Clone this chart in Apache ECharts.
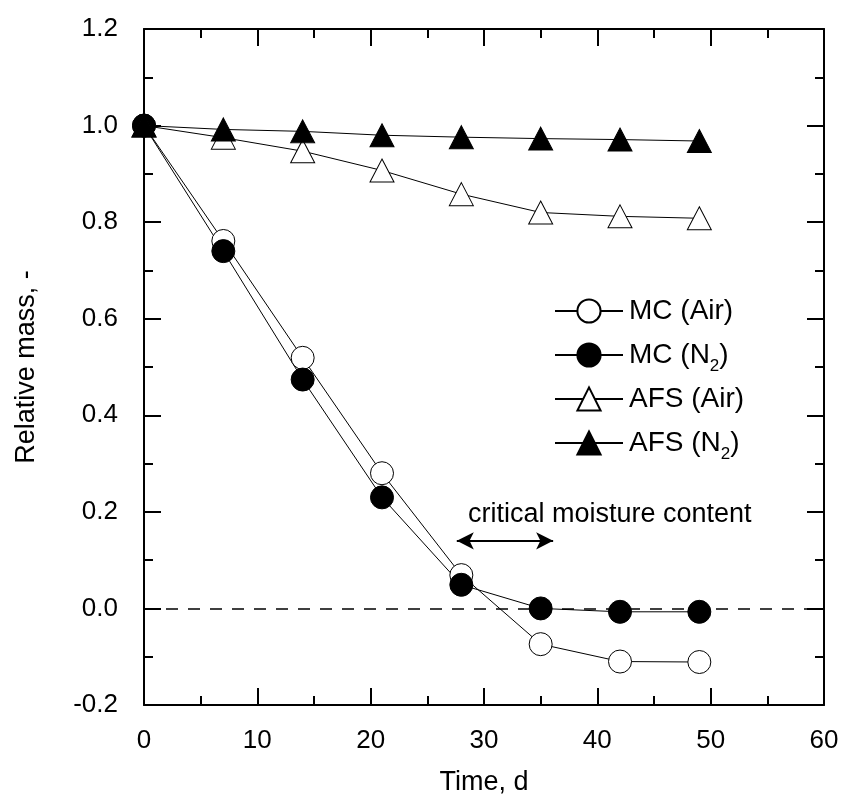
<!DOCTYPE html>
<html>
<head>
<meta charset="utf-8">
<script src="https://cdn.jsdelivr.net/npm/echarts@6/dist/echarts.min.js"></script>
<style>
html,body{margin:0;padding:0;background:#fff;}
#chart{width:843px;height:801px;}
</style>
</head>
<body>
<div id="chart"></div>
<script>
var days = [0, 7, 14, 21, 28, 35, 42, 49];
var mcAir = [1.0, 0.761, 0.519, 0.280, 0.069, -0.074, -0.110, -0.111];
var mcN2 = [1.0, 0.740, 0.474, 0.230, 0.049, 0.0, -0.007, -0.007];
var afsAir = [1.0, 0.975, 0.947, 0.907, 0.858, 0.820, 0.812, 0.808];
var afsN2 = [1.0, 0.992, 0.988, 0.980, 0.976, 0.973, 0.971, 0.968];
var seriesNames = ['MC (Air)', 'MC (N2)', 'AFS (Air)', 'AFS (N2)'];
var xTicks = [0, 10, 20, 30, 40, 50, 60];
var yTicks = [-0.2, 0.0, 0.2, 0.4, 0.6, 0.8, 1.0, 1.2];
var arrowStart = [27.6, 0.14];
var arrowEnd = [36.1, 0.14];
var noteText = 'critical moisture content';
var notePos = [41.1, 0.194];

var FONT = '"Liberation Sans", Arial, Helvetica, sans-serif';

function pairs(ys) { return days.map(function (d, i) { return [d, ys[i]]; }); }

var chart = echarts.init(document.getElementById('chart'), null, {renderer: 'canvas'});

function axisCommon(extra) {
  var base = {
    type: 'value',
    axisLine: {show: true, onZero: false, lineStyle: {color: '#000', width: 2}},
    axisTick: {show: true, inside: true, length: 17, lineStyle: {color: '#000', width: 2}},
    minorTick: {show: true, splitNumber: 2, length: 9, lineStyle: {color: '#000', width: 2}},
    splitLine: {show: false},
    minorSplitLine: {show: false}
  };
  for (var k in extra) base[k] = extra[k];
  return base;
}

function legendFmt(name) {
  return name.replace('N2', 'N{sub|2}');
}

function makeSeries(name, ys, symbol, size, fill) {
  return {
    name: name,
    type: 'line',
    data: pairs(ys),
    symbol: symbol,
    symbolSize: size,
    showAllSymbol: true,
    lineStyle: {color: '#000', width: 1},
    itemStyle: {color: fill, borderColor: '#000', borderWidth: 1},
    emphasis: {disabled: true},
    animation: false,
    z: 3
  };
}

var s0 = makeSeries(seriesNames[0], mcAir, 'circle', 23, '#fff');
s0.markLine = {
  silent: true,
  animation: false,
  symbol: 'none',
  label: {show: false},
  lineStyle: {color: '#000', type: [12, 10], width: 1.5},
  data: [{yAxis: 0}]
};
var s1 = makeSeries(seriesNames[1], mcN2, 'circle', 23, '#000');
s1.markLine = {
  silent: true,
  animation: false,
  symbol: ['arrow', 'arrow'],
  symbolSize: [13, 17],
  label: {show: false},
  lineStyle: {color: '#000', type: 'solid', width: 2},
  data: [[{coord: arrowStart}, {coord: arrowEnd}]]
};
s1.markPoint = {
  silent: true,
  animation: false,
  symbol: 'circle',
  symbolSize: 1,
  itemStyle: {color: 'rgba(0,0,0,0)'},
  label: {show: true, position: 'inside', color: '#000', fontSize: 27, fontFamily: FONT, formatter: noteText},
  data: [{coord: notePos}]
};
var s2 = makeSeries(seriesNames[2], afsAir, 'triangle', [24, 23], '#fff');
var s3 = makeSeries(seriesNames[3], afsN2, 'triangle', [24, 23], '#000');

var option = {
  backgroundColor: '#fff',
  animation: false,
  textStyle: {fontFamily: FONT},
  grid: {left: 144, right: 19, top: 29, bottom: 92, containLabel: false},
  legend: {
    orient: 'vertical',
    left: 549,
    top: 286,
    itemWidth: 68,
    itemHeight: 29,
    itemGap: 4,
    selectedMode: false,
    data: seriesNames,
    formatter: legendFmt,
    textStyle: {
      color: '#000', fontSize: 28, fontFamily: FONT, lineHeight: 40,
      padding: [0, 0, 0, 1],
      rich: {
        sub: {fontSize: 17, fontFamily: FONT, color: '#000', lineHeight: 12, verticalAlign: 'bottom'}
      }
    }
  },
  xAxis: [
    axisCommon({
      min: xTicks[0], max: xTicks[xTicks.length - 1], interval: 10,
      position: 'bottom',
      name: 'Time, d', nameLocation: 'middle', nameGap: 64,
      nameTextStyle: {color: '#000', fontSize: 27, fontFamily: FONT},
      axisLabel: {show: true, color: '#000', fontSize: 26, fontFamily: FONT, margin: 23}
    }),
    axisCommon({
      min: xTicks[0], max: xTicks[xTicks.length - 1], interval: 10,
      position: 'top',
      axisLabel: {show: false}
    })
  ],
  yAxis: [
    axisCommon({
      min: yTicks[0], max: yTicks[yTicks.length - 1], interval: 0.2,
      position: 'left',
      name: 'Relative mass, -', nameLocation: 'middle', nameGap: 104,
      nameTextStyle: {color: '#000', fontSize: 27, fontFamily: FONT},
      axisLabel: {show: true, color: '#000', fontSize: 26, fontFamily: FONT, margin: 26,
        formatter: function (v) { return (Math.round(v * 10) / 10).toFixed(1); }}
    }),
    axisCommon({
      min: yTicks[0], max: yTicks[yTicks.length - 1], interval: 0.2,
      position: 'right',
      axisLabel: {show: false}
    })
  ],
  series: [s0, s1, s2, s3]
};
chart.setOption(option);
</script>
</body>
</html>
